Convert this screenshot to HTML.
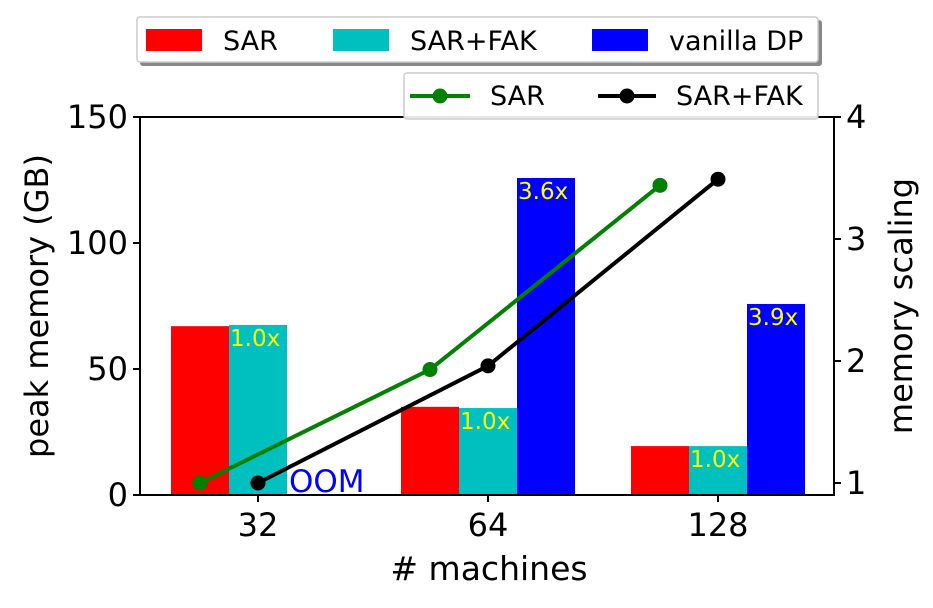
<!DOCTYPE html>
<html><head><meta charset="utf-8"><style>
body{margin:0;background:#fff;}
svg text{font-family:"DejaVu Sans","Liberation Sans",sans-serif;}
</style></head><body>
<svg id="c" width="933" height="603" xmlns="http://www.w3.org/2000/svg"></svg>
<script>
const categories=["32","64","128"];
const sarMem=[67,35,19.4];
const fakMem=[67.5,34.5,19.4];
const dpMem=[null,125.8,75.8];
const dpLabels=["","3.6x","3.9x"];
const fakLabels=["1.0x","1.0x","1.0x"];
const sarScaling=[1.0,1.93,3.44];
const fakScaling=[1.0,1.96,3.49];
const leftTicks=[0,50,100,150];
const rightTicks=[1,2,3,4];

const NS="http://www.w3.org/2000/svg";
const svg=document.getElementById('c');
function mk(t,a,txt,p){const e=document.createElementNS(NS,t);for(const k in a)e.setAttribute(k,a[k]);if(txt!=null)e.textContent=txt;(p||svg).appendChild(e);return e;}
const L=140,R=834,T=117,B=495;
const yL=v=>B-(v/150)*(B-T);
const yR=v=>483-(v-1)*122;
const xC=i=>258+i*230;
const bw=58;

categories.forEach((c,i)=>{
  let r=mk('rect',{x:xC(i)-1.5*bw,y:yL(sarMem[i]),width:bw,height:B-yL(sarMem[i]),fill:'#ff0000'});
  
  r=mk('rect',{x:xC(i)-0.5*bw,y:yL(fakMem[i]),width:bw,height:B-yL(fakMem[i]),fill:'#00bfbf'});
  
  let t=mk('text',{x:xC(i)-0.5*bw+1,y:yL(fakMem[i])+21,fill:'#ffff00','font-size':23},fakLabels[i]);
  
  if(dpMem[i]!=null){
    r=mk('rect',{x:xC(i)+0.5*bw,y:yL(dpMem[i]),width:bw,height:B-yL(dpMem[i]),fill:'#0000ff'});
    
    t=mk('text',{x:xC(i)+0.5*bw+1,y:yL(dpMem[i])+21,fill:'#ffff00','font-size':23},dpLabels[i]);
    
  } else {
    t=mk('text',{x:xC(i)+0.5*bw+2,y:B-3,fill:'#0000ff','font-size':31},'OOM');
    
  }
});
function line(vals,dx,col,name){
  const pts=vals.map((v,i)=>[xC(i)+dx,yR(v)]);
  const pl=mk('polyline',{points:pts.map(p=>p.join(',')).join(' '),fill:'none',stroke:col,'stroke-width':4});
  
  pts.forEach((p,i)=>{const c=mk('circle',{cx:p[0],cy:p[1],r:7.5,fill:col});
    });
}
line(sarScaling,-bw,'#008000','sar-scaling');
line(fakScaling,0,'#000000','sar-fak-scaling');
mk('rect',{x:L,y:T,width:R-L,height:B-T,fill:'none',stroke:'#000','stroke-width':2});
leftTicks.forEach(v=>{const y=yL(v);mk('line',{x1:L-7,x2:L,y1:y,y2:y,stroke:'#000','stroke-width':2});
  const t=mk('text',{x:L-12,y:y+11,'text-anchor':'end','font-size':32},v);});
rightTicks.forEach(v=>{const y=yR(v);mk('line',{x1:R,x2:R+7,y1:y,y2:y,stroke:'#000','stroke-width':2});
  const t=mk('text',{x:R+12,y:y+11,'font-size':32},v);});
categories.forEach((c,i)=>{mk('line',{x1:xC(i),x2:xC(i),y1:B,y2:B+7,stroke:'#000','stroke-width':2});
  const t=mk('text',{x:xC(i),y:B+41,'text-anchor':'middle','font-size':32},c);});
</script>
<svg width="933" height="603" style="position:absolute;left:0;top:0" xmlns="http://www.w3.org/2000/svg">
<text x="489" y="580" text-anchor="middle" font-size="33">#&#160;machines</text>
<text transform="translate(48,306) rotate(-90)" text-anchor="middle" font-size="32">peak memory (GB)</text>
<text transform="translate(912,306) rotate(-90)" text-anchor="middle" font-size="32">memory scaling</text>
<g>
<rect x="140" y="20" width="682" height="46" rx="3" fill="#888"/>
<rect x="137" y="17" width="681" height="45" rx="3" fill="#fff" stroke="#ccc" stroke-width="1.5"/>
<rect x="146" y="29" width="56" height="22" fill="#ff0000"/>
<text x="223" y="50" font-size="27">SAR</text>
<rect x="333" y="29" width="56" height="22" fill="#00bfbf"/>
<text x="410" y="50" font-size="27">SAR+FAK</text>
<rect x="592" y="29" width="56" height="22" fill="#0000ff"/>
<text x="669" y="50" font-size="27">vanilla DP</text>
</g>
<g>
<rect x="404" y="73" width="414" height="46" rx="3" fill="#fff" fill-opacity="0.9" stroke="#ccc" stroke-width="1.5"/>
<line x1="410" x2="470" y1="96" y2="96" stroke="#008000" stroke-width="4"/><circle cx="440" cy="96" r="7.5" fill="#008000"/>
<text x="490" y="105" font-size="27">SAR</text>
<line x1="598" x2="656" y1="96" y2="96" stroke="#000" stroke-width="4"/><circle cx="627" cy="96" r="7.5" fill="#000"/>
<text x="676" y="105" font-size="27">SAR+FAK</text>
</g>
</svg>
</body></html>
